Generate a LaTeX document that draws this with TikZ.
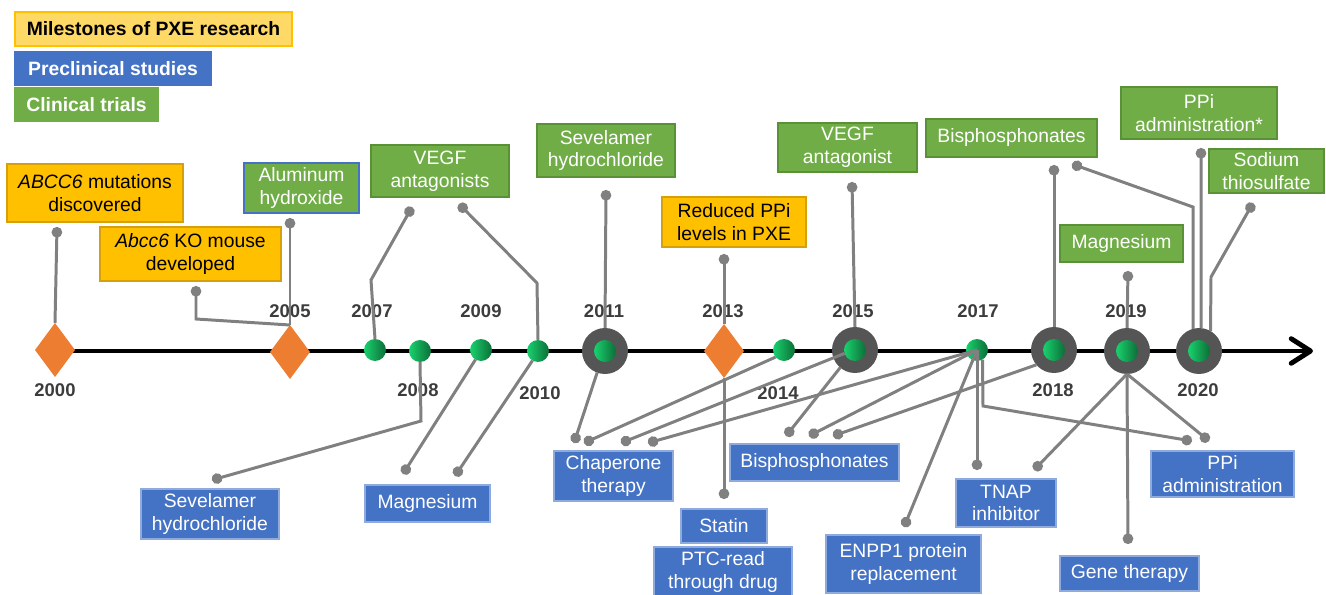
\documentclass[tikz,border=0pt]{standalone}
\usepackage{fontspec}
\setmainfont{Liberation Sans}
\usetikzlibrary{shapes.geometric,arrows.meta}

\definecolor{pxeora}{RGB}{255,192,0}
\definecolor{pxeoraline}{RGB}{214,160,10}
\definecolor{pxelegend}{RGB}{255,217,102}
\definecolor{pxeblue}{RGB}{68,114,196}
\definecolor{pxeblueline}{RGB}{143,170,220}
\definecolor{pxegreen}{RGB}{112,173,71}
\definecolor{pxegreenline}{RGB}{90,145,55}
\definecolor{pxediam}{RGB}{237,125,49}
\definecolor{pxering}{RGB}{85,85,85}
\definecolor{pxeline}{RGB}{128,128,128}
\definecolor{pxeyear}{RGB}{60,60,60}
\definecolor{pxedotA}{RGB}{25,210,110}
\definecolor{pxedotB}{RGB}{12,110,55}

\begin{document}
\begin{tikzpicture}[x=0.02cm,y=-0.02cm,inner sep=0pt,outer sep=0pt,
box/.style={draw,rectangle,align=center,font=\fontsize{11}{13}\selectfont,line width=0.8pt},
pre/.style={box,fill=pxeblue,draw=pxeblueline,text=white},
clin/.style={box,fill=pxegreen,draw=pxegreenline,text=white},
mile/.style={box,fill=pxeora,draw=pxeoraline,text=black},
keybox/.style={draw,rectangle,font=\fontsize{11}{13}\selectfont\bfseries,line width=0.8pt,minimum height=0.68cm},
yr/.style={font=\fontsize{10.5}{12}\selectfont\bfseries,text=pxeyear},
mstone/.style={diamond,fill=pxediam,minimum width=0.8cm,minimum height=1.08cm},
gdot/.style={circle,minimum size=0.44cm,left color=pxedotA,right color=pxedotB},
ring/.style={circle,fill=pxering,minimum size=0.92cm},
conn/.style={draw=pxeline,line width=1.7pt,{Circle[length=6pt]}-}]

\useasboundingbox (0,0) rectangle (1326,595);

\draw (153.5,29) node[keybox,fill=pxelegend,draw=pxeora,minimum width=5.54cm] (kmile) {Milestones of PXE research};
\draw (113,68.5) node[keybox,fill=pxeblue,draw=pxeblue,text=white,minimum width=3.92cm] (kpre) {Preclinical studies};
\draw (86.5,104.5) node[keybox,fill=pxegreen,draw=pxegreen,text=white,minimum width=2.86cm] (kclin) {Clinical trials};

\coordinate (ax0) at (55,351);
\coordinate (ax1) at (1313,351);
\draw[line width=2.8pt,-{Straight Barb[length=11pt,width=14pt,round]}] (ax0) -- (ax1);

\draw (55,350) node[mstone] (d2000) {};
\draw (290,352) node[mstone] (d2005) {};
\draw (375,350) node[gdot] (g2007) {};
\draw (420,351) node[gdot] (g2008) {};
\draw (481,350) node[gdot] (g2009) {};
\draw (538,351) node[gdot] (g2010) {};
\draw (605,351) node[ring] (r2011) {} node[gdot] (i2011) {};
\draw (724,351) node[mstone] (d2013) {};
\draw (784,350) node[gdot] (g2014) {};
\draw (855,350) node[ring] (r2015) {} node[gdot] (i2015) {};
\draw (977,350) node[gdot] (g2017) {};
\draw (1054,350) node[ring] (r2018) {} node[gdot] (i2018) {};
\draw (1127,351) node[ring] (r2019) {} node[gdot] (i2019) {};
\draw (1199,351) node[ring] (r2020) {} node[gdot] (i2020) {};

\draw (55,390) node[yr] (y2000) {2000};
\draw (290,311) node[yr] (y2005) {2005};
\draw (372,311) node[yr] (y2007) {2007};
\draw (418,390) node[yr] (y2008) {2008};
\draw (481,311) node[yr] (y2009) {2009};
\draw (540,393) node[yr] (y2010) {2010};
\draw (604,311) node[yr] (y2011) {2011};
\draw (723,311) node[yr] (y2013) {2013};
\draw (778,393) node[yr] (y2014) {2014};
\draw (853,311) node[yr] (y2015) {2015};
\draw (978,311) node[yr] (y2017) {2017};
\draw (1053,390) node[yr] (y2018) {2018};
\draw (1126,311) node[yr] (y2019) {2019};
\draw (1198,390) node[yr] (y2020) {2020};

\draw (95,193) node[mile,minimum width=3.52cm,minimum height=1.16cm] (abcc) {\textit{ABCC6} mutations\\discovered};
\draw (190.5,254) node[mile,minimum width=3.62cm,minimum height=1.08cm] (komouse) {\textit{Abcc6} KO mouse\\developed};
\draw (301.5,188) node[clin,draw=pxeblue,minimum width=2.3cm,minimum height=1cm] (alu) {Aluminum\\hydroxide};
\draw (440,171) node[clin,minimum width=2.76cm,minimum height=1.04cm] (vegfA) {VEGF\\antagonists};
\draw (606,150.5) node[clin,minimum width=2.76cm,minimum height=1.06cm] (sevC) {Sevelamer\\hydrochloride};
\draw (734,222) node[mile,minimum width=2.88cm,minimum height=1cm] (ppilow) {Reduced PPi\\levels in PXE};
\draw (847.5,147.5) node[clin,minimum width=2.78cm,minimum height=0.98cm] (vegfB) {VEGF\\antagonist};
\draw (1011.5,138) node[clin,minimum width=3.42cm,minimum height=0.76cm] (bisC) {Bisphosphonates};
\draw (1199,113) node[clin,minimum width=3.12cm,minimum height=1.04cm] (ppiC) {PPi\\administration*};
\draw (1266.5,171) node[clin,minimum width=2.3cm,minimum height=0.88cm] (sts) {Sodium\\thiosulfate};
\draw (1121.5,243.5) node[clin,minimum width=2.46cm,minimum height=0.74cm] (magC) {Magnesium};

\draw (210,514) node[pre,minimum width=2.76cm,minimum height=1cm] (sevP) {Sevelamer\\hydrochloride};
\draw (427.5,503.5) node[pre,minimum width=2.5cm,minimum height=0.74cm] (magP) {Magnesium};
\draw (613.5,476) node[pre,minimum width=2.38cm,minimum height=1cm] (chap) {Chaperone\\therapy};
\draw (724,526) node[pre,minimum width=1.72cm,minimum height=0.68cm] (statin) {Statin};
\draw (723,572) node[pre,minimum width=2.76cm,minimum height=1cm] (ptc) {PTC-read\\through drug};
\draw (814.5,462.5) node[pre,minimum width=3.38cm,minimum height=0.74cm] (bisP) {Bisphosphonates};
\draw (903.5,564) node[pre,minimum width=3.1cm,minimum height=1.16cm] (enpp) {ENPP1 protein\\replacement};
\draw (1006,503) node[pre,minimum width=2cm,minimum height=0.96cm] (tnap) {TNAP\\inhibitor};
\draw (1129.5,573.5) node[pre,minimum width=2.78cm,minimum height=0.7cm] (gene) {Gene therapy};
\draw (1222.5,474) node[pre,minimum width=2.86cm,minimum height=0.92cm] (ppiP) {PPi\\administration};

\coordinate (a1) at (57,227);
\coordinate (a2) at (196,286);
\coordinate (a3) at (290,218);
\coordinate (a4) at (412,207);
\coordinate (a5) at (459,204);
\coordinate (a6) at (606,190);
\coordinate (a7) at (724,254);
\coordinate (a8) at (852,182);
\coordinate (a9) at (1054,165);
\coordinate (a10) at (1072,164);
\coordinate (a11) at (1201,148);
\coordinate (a12) at (1253,203);
\coordinate (a13) at (1128,271);

\coordinate (b1) at (212,480);
\coordinate (b2) at (403,474);
\coordinate (b3) at (455,476);
\coordinate (c1) at (574,443);
\coordinate (c2) at (584,443);
\coordinate (c3) at (621,443);
\coordinate (c4) at (648,443);
\coordinate (e1) at (786,436);
\coordinate (e2) at (809,436);
\coordinate (e3) at (833,436);
\coordinate (s1) at (724,499);
\coordinate (n1) at (904,527);
\coordinate (t1) at (977,470);
\coordinate (t2) at (1034,470);
\coordinate (h1) at (1128,544);
\coordinate (p1) at (1192,441);
\coordinate (p2) at (1209,441);

\draw[conn] (a1) -- (d2000.north);
\draw[conn] (a2) -- ++(0,33) -- (d2005.north);
\draw[conn] (a3) -- (d2005.north);
\draw[conn] (a4) -- ++(-41,73) -- (g2007.north);
\draw[conn] (a5) -- ++(78,79) -- (g2010.north);
\draw[conn] (a6) -- (r2011.north);
\draw[conn] (a7) -- (d2013.north);
\draw[conn] (a8) -- (r2015.north);
\draw[conn] (a9) -- (r2018.north);
\draw[conn] (a10) -- ++(121,43) -- (r2020.105);
\draw[conn] (a11) -- (r2020.85);
\draw[conn] (a12) -- ++(-42,74) -- (r2020.60);
\draw[conn] (a13) -- (r2019.north);

\draw[conn] (b1) -- ++(209,-59) -- (g2008.south);
\draw[conn] (b2) -- (g2009.240);
\draw[conn] (b3) -- (g2010.240);
\draw[conn] (c1) -- (r2011.250);
\draw[conn] (c2) -- (g2014.220);
\draw[conn] (c3) -- (i2015.198);
\draw[conn] (c4) -- (g2017.center);
\draw[conn] (e1) -- (r2015.230);
\draw[conn] (e2) -- (g2017.center);
\draw[conn] (e3) -- (r2018.220);
\draw[conn] (s1) -- (d2013.south);
\draw[conn] (n1) -- (g2017.center);
\draw[conn] (t1) -- (g2017.center);
\draw[conn] (t2) -- (r2019.south);
\draw[conn] (h1) -- (r2019.south);
\draw[conn] (p1) -- ++(-209,-35) -- (g2017.300);
\draw[conn] (p2) -- (r2019.south);
\end{tikzpicture}
\end{document}
